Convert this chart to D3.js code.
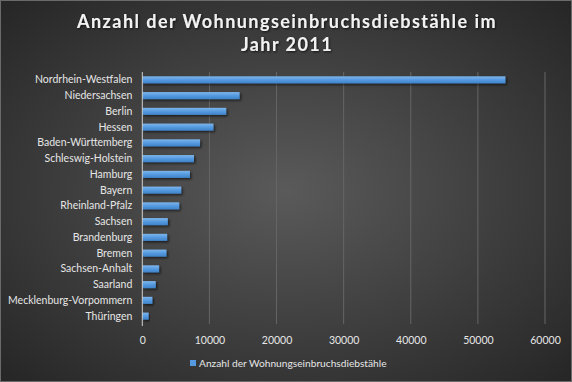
<!DOCTYPE html>
<html><head><meta charset="utf-8">
<script src="https://cdn.jsdelivr.net/npm/d3@7"></script>
<style>
html,body{margin:0;padding:0;background:#333;}
svg{display:block;}
</style></head>
<body>
<svg id="chart" width="572" height="382"></svg>
<script>
const categories = ["Nordrhein-Westfalen","Niedersachsen","Berlin","Hessen","Baden-Württemberg","Schleswig-Holstein","Hamburg","Bayern","Rheinland-Pfalz","Sachsen","Brandenburg","Bremen","Sachsen-Anhalt","Saarland","Mecklenburg-Vorpommern","Thüringen"];
const values = [54100,14500,12500,10600,8600,7700,7100,5800,5500,3800,3700,3600,2500,2000,1500,950];
const tickValues = [0,10000,20000,30000,40000,50000,60000];
const titleLines = ["Anzahl der Wohnungseinbruchsdiebstähle im","Jahr 2011"];
const seriesName = "Anzahl der Wohnungseinbruchsdiebstähle";

const W = 572, H = 382;
const svg = d3.select("#chart");
const defs = svg.append("defs");
const bg = defs.append("radialGradient").attr("id","bg").attr("cx","50%").attr("cy","50%").attr("r","70%");
bg.append("stop").attr("offset","0%").attr("stop-color","#5a5a5a");
bg.append("stop").attr("offset","100%").attr("stop-color","#262626");
const bar = defs.append("linearGradient").attr("id","bar").attr("x1",0).attr("y1",0).attr("x2",0).attr("y2",1);
bar.append("stop").attr("offset","0%").attr("stop-color","#7fb6ec");
bar.append("stop").attr("offset","50%").attr("stop-color","#559ae0");
bar.append("stop").attr("offset","100%").attr("stop-color","#3f82c8");
const sh = defs.append("filter").attr("id","sh").attr("x","-10%").attr("y","-50%").attr("width","130%").attr("height","250%");
sh.append("feDropShadow").attr("dx",1.5).attr("dy",1.5).attr("stdDeviation",1).attr("flood-color","#000").attr("flood-opacity",0.6);
const tsh = defs.append("filter").attr("id","tsh");
tsh.append("feDropShadow").attr("dx",1).attr("dy",1).attr("stdDeviation",0.8).attr("flood-color","#000").attr("flood-opacity",0.7);

svg.append("rect").attr("width",W).attr("height",H).attr("fill","url(#bg)");
svg.append("rect").attr("x",0.5).attr("y",0.5).attr("width",W-1).attr("height",H-1).attr("fill","none").attr("stroke","#6a6a6a");

const x = d3.scaleLinear().domain([0,60000]).range([142.3,545]);
const y = d3.scaleBand().domain(categories).range([72,324]).paddingInner(0.55).paddingOuter(0.275);

// gridlines
svg.append("g").selectAll("line").data(tickValues.slice(1)).join("line")
  .attr("x1",d=>x(d)).attr("x2",d=>x(d)).attr("y1",72).attr("y2",324)
  .attr("stroke","#666").attr("stroke-width",1);

// bars
svg.append("g").selectAll("rect").data(values).join("rect")
  .attr("x",x(0)).attr("y",(d,i)=>y(categories[i]))
  .attr("width",d=>x(d)-x(0)).attr("height",y.bandwidth())
  .attr("fill","url(#bar)").attr("filter","url(#sh)");

// vertical axis line
svg.append("line").attr("x1",x(0)).attr("x2",x(0)).attr("y1",72).attr("y2",326).attr("stroke","#cfcfcf").attr("stroke-width",1);

const font = "Lato, 'Open Sans', sans-serif";
// y axis
const yAxis = d3.axisLeft(y).tickSize(0).tickPadding(10);
const gy = svg.append("g").attr("transform",`translate(${x(0)},0)`).call(yAxis);
gy.select(".domain").remove();
gy.selectAll("text").attr("fill","#e6e6e6").style("font-family",font).style("font-size","10.5px");

// x axis
const xAxis = d3.axisBottom(x).tickValues(tickValues).tickSize(0).tickPadding(9).tickFormat(d3.format("d"));
const gx = svg.append("g").attr("transform","translate(0,328)").call(xAxis);
gx.select(".domain").remove();
gx.selectAll("text").attr("fill","#e6e6e6").style("font-family",font).style("font-size","10.5px");

// title
svg.append("g").selectAll("text").data(titleLines).join("text")
  .attr("x",287).attr("y",(d,i)=>28+i*23).attr("text-anchor","middle")
  .attr("fill","#f2f2f2").attr("filter","url(#tsh)")
  .style("font-family",font).style("font-weight","bold").style("font-size","18px").style("letter-spacing","1.45px")
  .text(d=>d);

// legend
const lg = svg.append("g");
lg.append("rect").attr("x",190).attr("y",360).attr("width",6).attr("height",6).attr("fill","#559ae0");
lg.append("text").attr("x",199).attr("y",367).attr("fill","#e6e6e6")
  .style("font-family",font).style("font-size","10.2px").text(seriesName);
</script>
</body></html>
